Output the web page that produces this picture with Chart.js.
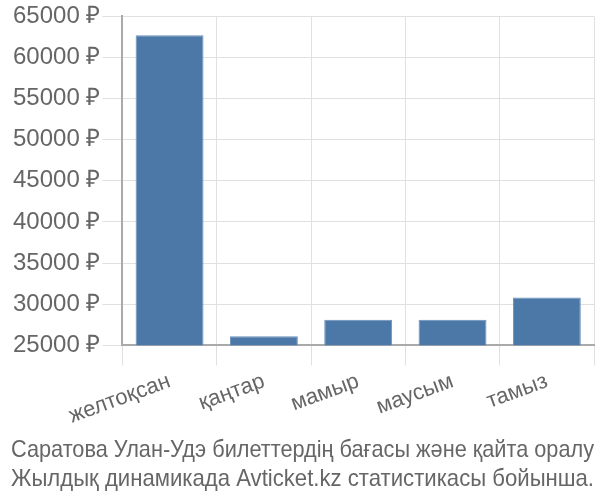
<!DOCTYPE html>
<html><head><meta charset="utf-8">
<script src="https://cdn.jsdelivr.net/npm/chart.js@4/dist/chart.umd.min.js"></script>
<style>html,body{margin:0;padding:0;background:#fff}#w{width:600px;height:500px}</style>
</head><body><div id="w"><canvas id="c"></canvas></div>
<script>
const categories = ["желтоқсан", "қаңтар", "мамыр", "маусым", "тамыз"];
const prices = [62700, 26100, 28100, 28100, 30800];
const titleLines = ["Саратова Улан-Удэ билеттердің бағасы және қайта оралу", "Жылдық динамикада Avticket.kz статистикасы бойынша."];
const yMin = 25000, yMax = 65000, yStep = 5000;

new Chart(document.getElementById('c'), {
  type: 'bar',
  data: { labels: categories, datasets: [{ data: prices, backgroundColor: '#4c78a8', borderColor: '#6a8fba', borderWidth: 1 }] },
  options: {
    responsive: true, maintainAspectRatio: false, animation: false,
    layout: { padding: { left: 11, right: 6, top: 4, bottom: 0 } },
    plugins: {
      legend: { display: false },
      tooltip: { enabled: false },
      title: { display: true, position: 'bottom', text: titleLines, color: '#666', font: { family: 'Liberation Sans', size: 24, weight: 'normal' }, padding: { top: 4, bottom: 6 }, lineHeight: 1.1 }
    },
    scales: {
      x: {
        grid: { color: '#e0e0e0', lineWidth: 1, tickLength: 20, drawTicks: true },
        border: { color: '#aaa', width: 2 },
        ticks: { color: '#666', font: { family: 'Liberation Sans', size: 22 }, minRotation: 20, maxRotation: 20 }
      },
      y: {
        min: yMin, max: yMax,
        grid: { color: '#e0e0e0', lineWidth: 1, tickLength: 20 },
        border: { color: '#aaa', width: 2 },
        ticks: { stepSize: yStep, color: '#666', padding: 2, font: { family: 'Liberation Sans', size: 24 }, callback: v => v + ' ₽' }
      }
    }
  }
});
</script></body></html>
